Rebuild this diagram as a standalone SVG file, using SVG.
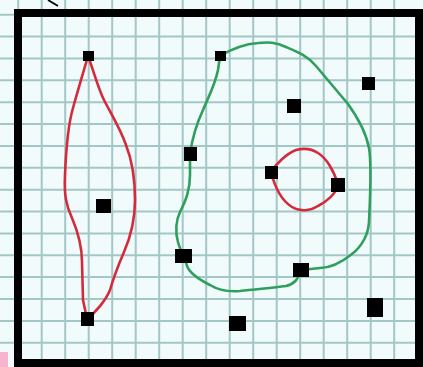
<svg xmlns="http://www.w3.org/2000/svg" width="423" height="367" viewBox="0 0 423 367">
<defs>
<style>
.bg{fill:#f1fbfb}
.grid line{stroke:#a3c7c6;stroke-width:2}
.frame{fill:none;stroke:#000;stroke-width:8}
.red{fill:none;stroke:#d42a3c;stroke-width:2.6;stroke-linejoin:round;stroke-linecap:round}
.green{fill:none;stroke:#2e9f5c;stroke-width:2.6;stroke-linejoin:round;stroke-linecap:round}
.pt{fill:#000}
</style>
</defs>
<rect class="bg" x="0" y="0" width="423" height="367"/>
<g class="grid">
<line x1="18.2" y1="0" x2="18.2" y2="367"/>
<line x1="41.7" y1="0" x2="41.7" y2="367"/>
<line x1="65.2" y1="0" x2="65.2" y2="367"/>
<line x1="88.7" y1="0" x2="88.7" y2="367"/>
<line x1="112.2" y1="0" x2="112.2" y2="367"/>
<line x1="135.7" y1="0" x2="135.7" y2="367"/>
<line x1="159.2" y1="0" x2="159.2" y2="367"/>
<line x1="182.7" y1="0" x2="182.7" y2="367"/>
<line x1="206.2" y1="0" x2="206.2" y2="367"/>
<line x1="229.7" y1="0" x2="229.7" y2="367"/>
<line x1="253.2" y1="0" x2="253.2" y2="367"/>
<line x1="276.7" y1="0" x2="276.7" y2="367"/>
<line x1="300.2" y1="0" x2="300.2" y2="367"/>
<line x1="323.7" y1="0" x2="323.7" y2="367"/>
<line x1="347.2" y1="0" x2="347.2" y2="367"/>
<line x1="370.7" y1="0" x2="370.7" y2="367"/>
<line x1="394.2" y1="0" x2="394.2" y2="367"/>
<line x1="0" y1="14.7" x2="423" y2="14.7"/>
<line x1="0" y1="36.6" x2="423" y2="36.6"/>
<line x1="0" y1="58.4" x2="423" y2="58.4"/>
<line x1="0" y1="80.3" x2="423" y2="80.3"/>
<line x1="0" y1="102.2" x2="423" y2="102.2"/>
<line x1="0" y1="124.1" x2="423" y2="124.1"/>
<line x1="0" y1="145.9" x2="423" y2="145.9"/>
<line x1="0" y1="167.8" x2="423" y2="167.8"/>
<line x1="0" y1="189.7" x2="423" y2="189.7"/>
<line x1="0" y1="211.5" x2="423" y2="211.5"/>
<line x1="0" y1="233.4" x2="423" y2="233.4"/>
<line x1="0" y1="255.3" x2="423" y2="255.3"/>
<line x1="0" y1="277.1" x2="423" y2="277.1"/>
<line x1="0" y1="299" x2="423" y2="299"/>
<line x1="0" y1="320.9" x2="423" y2="320.9"/>
<line x1="0" y1="342.7" x2="423" y2="342.7"/>
</g>
<rect x="0" y="352" width="8" height="15" fill="#f6b4cf"/>
<line x1="48" y1="0" x2="58" y2="6" stroke="#000" stroke-width="1.8"/>
<rect class="frame" x="18" y="13" width="401" height="350"/>
<g id="curves">
<path id="red-left" class="red" d="M88,56 C84,70 78,90 73,108 C68,125 66,150 65,175 C64,195 66,205 72,218 C78,232 82,245 82,262 L83,300 L87,319 C96,312 106,300 110,290 C114,276 118,266 124,252 C131,236 135,218 135,200 C135,180 132,160 126,145 C120,128 110,112 104,100 C98,88 94,72 88,56 Z"/>
<path id="green-loop" class="green" d="M220,56 C230,50 245,44 258,43 C268,42 276,42 286,47 C298,52 308,56 316,66 C326,78 338,92 348,104 C358,118 366,132 369,148 C372,165 370,200 369,222 C368,236 362,246 352,254 C342,262 332,268 320,268 L301,270 C298,280 294,284 286,286 C272,288 256,289 240,291 C228,292 218,290 210,285 C200,280 190,274 187,266 C185,258 180,250 178,242 C175,232 176,220 180,212 C186,200 190,190 190,175 L190,154 C192,140 196,125 203,110 C208,98 215,85 218,70 Z"/>
<path id="red-small" class="red" d="M271,172 C276,164 286,154 296,150 C304,148 312,149 318,153 C326,158 334,170 338,185 C336,194 326,202 318,206 C310,211 300,212 292,207 C284,202 276,192 271,172 Z"/>
</g>
<g id="n1"><rect class="pt" x="83" y="51" width="11" height="10"/></g>
<g id="n2"><rect class="pt" x="215" y="51" width="11" height="10"/></g>
<g id="n3"><rect class="pt" x="362" y="77" width="13" height="13"/></g>
<g id="n4"><rect class="pt" x="287" y="99" width="14" height="14"/></g>
<g id="n5"><rect class="pt" x="184" y="147" width="13" height="14"/></g>
<g id="n6"><rect class="pt" x="265" y="166" width="13" height="13"/></g>
<g id="n7"><rect class="pt" x="331" y="178" width="14" height="14"/></g>
<g id="n8"><rect class="pt" x="96" y="199" width="15" height="14"/></g>
<g id="n9"><rect class="pt" x="175" y="249" width="17" height="14"/></g>
<g id="n10"><rect class="pt" x="293" y="263" width="16" height="14"/></g>
<g id="n11"><rect class="pt" x="81" y="312" width="13" height="14"/></g>
<g id="n12"><rect class="pt" x="229" y="316" width="17" height="15"/></g>
<g id="n13"><rect class="pt" x="367" y="298" width="16" height="19"/></g>
</svg>
